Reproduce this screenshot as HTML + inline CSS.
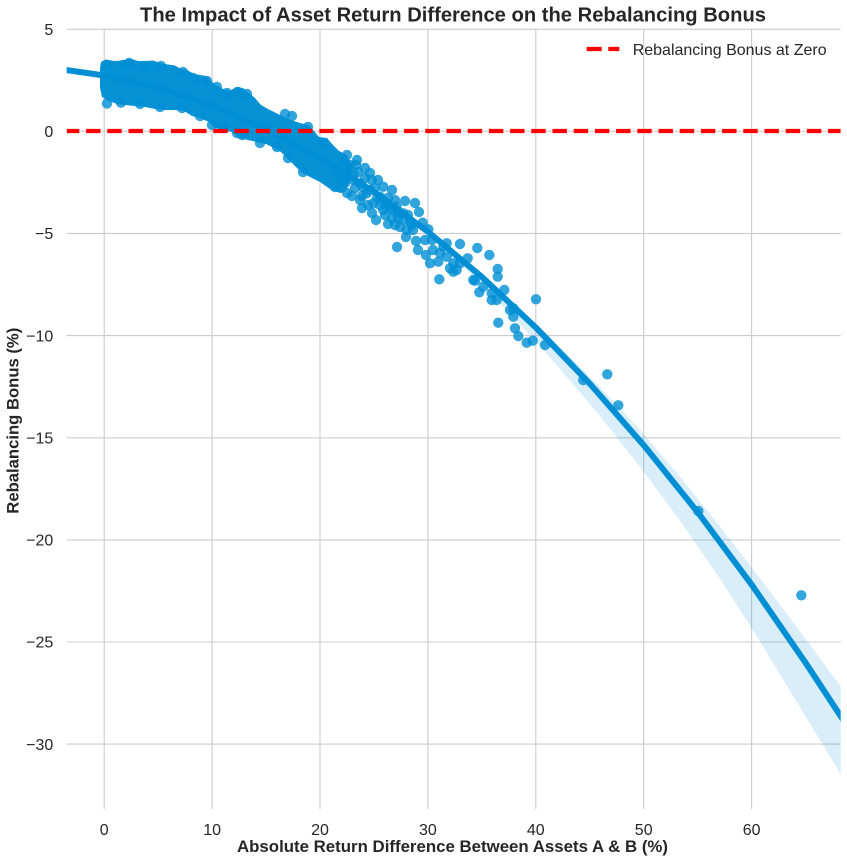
<!DOCTYPE html>
<html>
<head>
<meta charset="utf-8">
<style>
html,body{margin:0;padding:0;background:#fff;}
svg{display:block;}
text{font-family:"Liberation Sans",Arial,sans-serif;fill:#262626;}
</style>
</head>
<body>
<svg width="847" height="864" viewBox="0 0 847 864" xmlns="http://www.w3.org/2000/svg">
<defs>
<clipPath id="pa"><rect x="66.7" y="29" width="774" height="780"/></clipPath>
</defs>
<rect width="847" height="864" fill="#fff"/>

<!-- grid -->
<g stroke="#cccccc" stroke-width="1.1" fill="none">
<line x1="104.2" y1="29" x2="104.2" y2="809"/>
<line x1="212.1" y1="29" x2="212.1" y2="809"/>
<line x1="320" y1="29" x2="320" y2="809"/>
<line x1="427.9" y1="29" x2="427.9" y2="809"/>
<line x1="535.8" y1="29" x2="535.8" y2="809"/>
<line x1="643.7" y1="29" x2="643.7" y2="809"/>
<line x1="751.6" y1="29" x2="751.6" y2="809"/>
<line x1="66.7" y1="29.3" x2="840.7" y2="29.3"/>
<line x1="66.7" y1="131.3" x2="840.7" y2="131.3"/>
<line x1="66.7" y1="233.4" x2="840.7" y2="233.4"/>
<line x1="66.7" y1="335.6" x2="840.7" y2="335.6"/>
<line x1="66.7" y1="437.8" x2="840.7" y2="437.8"/>
<line x1="66.7" y1="539.9" x2="840.7" y2="539.9"/>
<line x1="66.7" y1="642" x2="840.7" y2="642"/>
<line x1="66.7" y1="744.1" x2="840.7" y2="744.1"/>
</g>

<g clip-path="url(#pa)">
<!-- dense scatter core -->
<polygon fill="#0892d6" points="100,68 101,62 106,59.5 114,61 122,60.5 130,58.5 138,61 146,61 153,60.5 160,63 168,64.5 175,65.5 181,69 188,70.5 194,74 200,75 206,76 211,81 216,85 223,89 230,91 236,87 243,88 249,93 255,98 261,105 268,109 276,113 282,116 291,120 300,123 308,125 314,131 319,137 327,138 333,145 339,151 347,155 352,165 350,180 345,192 340,193 330,189 320,182 310,177 301,172 294,165 288,159 281,152 274,148 266,144 257,142 248,140 240,138 232,132 223,130 215,128 209,122 200,118 192,116 184,111 175,110 165,110 155,109 145,107 135,106 125,105 117,104 109,101 102,97 100,88"/>
<!-- scatter points -->
<g fill="#008fd5" fill-opacity="0.8">
<circle cx="106" cy="65" r="5.2"/><circle cx="123" cy="65" r="5.2"/><circle cx="129" cy="63" r="5.2"/><circle cx="145" cy="66" r="5.2"/><circle cx="161" cy="66" r="5.2"/><circle cx="183" cy="72" r="5.2"/><circle cx="193" cy="78" r="5.2"/><circle cx="207" cy="81" r="5.2"/><circle cx="217" cy="87" r="5.2"/><circle cx="227" cy="93" r="5.2"/><circle cx="238" cy="92" r="5.2"/><circle cx="247" cy="94" r="5.2"/><circle cx="285" cy="114" r="5.2"/><circle cx="292" cy="116" r="5.2"/><circle cx="308" cy="127" r="5.2"/><circle cx="323" cy="143" r="5.2"/><circle cx="347" cy="155" r="5.2"/><circle cx="356" cy="165" r="5.2"/><circle cx="370" cy="173" r="5.2"/><circle cx="392" cy="190" r="5.2"/><circle cx="405" cy="201" r="5.2"/><circle cx="415" cy="203" r="5.2"/>
<circle cx="107" cy="103.5" r="5.2"/><circle cx="121" cy="102.7" r="5.2"/><circle cx="140" cy="104" r="5.2"/><circle cx="160" cy="107" r="5.2"/><circle cx="182" cy="108" r="5.2"/><circle cx="200" cy="116" r="5.2"/><circle cx="212" cy="125" r="5.2"/><circle cx="224" cy="128" r="5.2"/><circle cx="237" cy="133" r="5.2"/><circle cx="242" cy="135" r="5.2"/><circle cx="260" cy="143" r="5.2"/><circle cx="277" cy="147" r="5.2"/><circle cx="288" cy="158" r="5.2"/><circle cx="303" cy="172" r="5.2"/><circle cx="335" cy="187" r="5.2"/><circle cx="347" cy="193" r="5.2"/><circle cx="362" cy="208" r="5.2"/><circle cx="376" cy="220" r="5.2"/><circle cx="388" cy="224" r="5.2"/><circle cx="397" cy="247" r="5.2"/><circle cx="406" cy="237" r="5.2"/><circle cx="416" cy="241" r="5.2"/><circle cx="400" cy="227" r="5.2"/><circle cx="413" cy="230" r="5.2"/>
<!-- mid dense region as points -->
<circle cx="353.3" cy="180" r="5.2"/><circle cx="360" cy="183.3" r="5.2"/><circle cx="346.7" cy="173.3" r="5.2"/><circle cx="371.7" cy="180" r="5.2"/><circle cx="383.3" cy="186.7" r="5.2"/><circle cx="366.7" cy="193.3" r="5.2"/><circle cx="380" cy="196.7" r="5.2"/><circle cx="373.3" cy="203.3" r="5.2"/><circle cx="383.3" cy="210" r="5.2"/><circle cx="393.3" cy="210" r="5.2"/><circle cx="396.7" cy="206.7" r="5.2"/><circle cx="403.3" cy="213.3" r="5.2"/><circle cx="403.3" cy="220" r="5.2"/><circle cx="406.7" cy="230" r="5.2"/>
<circle cx="350" cy="165" r="5.2"/><circle cx="358" cy="172" r="5.2"/><circle cx="365" cy="178" r="5.2"/><circle cx="375" cy="188" r="5.2"/><circle cx="388" cy="198" r="5.2"/><circle cx="395" cy="200" r="5.2"/><circle cx="355" cy="188" r="5.2"/><circle cx="362" cy="196" r="5.2"/><circle cx="368" cy="205" r="5.2"/><circle cx="385" cy="215" r="5.2"/><circle cx="392" cy="218" r="5.2"/><circle cx="410" cy="222" r="5.2"/><circle cx="357" cy="160" r="5.2"/><circle cx="342" cy="160" r="5.2"/><circle cx="340" cy="175" r="5.2"/><circle cx="345" cy="183" r="5.2"/><circle cx="352" cy="196" r="5.2"/><circle cx="378" cy="180" r="5.2"/><circle cx="398" cy="218" r="5.2"/><circle cx="387" cy="205" r="5.2"/>
<circle cx="349" cy="170" r="5.2"/><circle cx="363" cy="187" r="5.2"/><circle cx="370" cy="190" r="5.2"/><circle cx="377" cy="198" r="5.2"/><circle cx="384" cy="202" r="5.2"/><circle cx="390" cy="208" r="5.2"/><circle cx="398" cy="212" r="5.2"/><circle cx="408" cy="215" r="5.2"/><circle cx="412" cy="225" r="5.2"/><circle cx="395" cy="225" r="5.2"/><circle cx="380" cy="205" r="5.2"/><circle cx="372" cy="213" r="5.2"/><circle cx="360" cy="200" r="5.2"/><circle cx="365" cy="168" r="5.2"/><circle cx="354" cy="175" r="5.2"/>
<circle cx="422.7" cy="222.7" r="5.2"/><circle cx="428.3" cy="229.3" r="5.2"/><circle cx="426" cy="255" r="5.2"/><circle cx="430" cy="263.3" r="5.2"/><circle cx="438.3" cy="261.7" r="5.2"/><circle cx="446.7" cy="243.3" r="5.2"/><circle cx="460" cy="244" r="5.2"/><circle cx="477.3" cy="248" r="5.2"/><circle cx="489.3" cy="255" r="5.2"/><circle cx="467.7" cy="258.3" r="5.2"/><circle cx="439.3" cy="279.3" r="5.2"/><circle cx="453.3" cy="271.7" r="5.2"/><circle cx="475" cy="280.7" r="5.2"/><circle cx="479.3" cy="292.3" r="5.2"/><circle cx="491.7" cy="300" r="5.2"/><circle cx="497.7" cy="269" r="5.2"/><circle cx="497.7" cy="276.7" r="5.2"/><circle cx="504.3" cy="290" r="5.2"/><circle cx="513.3" cy="308.3" r="5.2"/><circle cx="536" cy="299.3" r="5.2"/><circle cx="498.3" cy="322.7" r="5.2"/><circle cx="515" cy="328.3" r="5.2"/><circle cx="518.3" cy="336" r="5.2"/><circle cx="526.7" cy="342.7" r="5.2"/><circle cx="532.7" cy="340.7" r="5.2"/><circle cx="545" cy="345" r="5.2"/>
<circle cx="433" cy="250" r="5.2"/><circle cx="440" cy="253" r="5.2"/><circle cx="446.7" cy="256.7" r="5.2"/><circle cx="453.3" cy="263.3" r="5.2"/><circle cx="456.7" cy="270" r="5.2"/><circle cx="450" cy="268.3" r="5.2"/><circle cx="460" cy="263.3" r="5.2"/><circle cx="443.3" cy="246.7" r="5.2"/><circle cx="473.3" cy="280" r="5.2"/><circle cx="483.3" cy="286.7" r="5.2"/><circle cx="491.7" cy="293.3" r="5.2"/><circle cx="496.7" cy="300" r="5.2"/><circle cx="510" cy="310" r="5.2"/><circle cx="513.3" cy="316.7" r="5.2"/>
<circle cx="419" cy="212" r="5.2"/><circle cx="425" cy="240" r="5.2"/><circle cx="418" cy="250" r="5.2"/><circle cx="432" cy="240" r="5.2"/>
<circle cx="583.3" cy="380" r="5.2"/><circle cx="607.3" cy="374.3" r="5.2"/><circle cx="618.3" cy="405.3" r="5.2"/><circle cx="698.3" cy="511" r="5.2"/><circle cx="801.3" cy="595.3" r="5.2"/>
</g>

<!-- confidence band -->
<polygon fill="#008fd5" fill-opacity="0.15" points="400,209.5 440,239.8 480,272.6 520,308.1 560,346.9 600,386.9 640,429.8 680,476.7 720,526.6 760,578.4 800,631.4 841,686.8 841,774.8 800,707.4 760,641.4 720,578.6 680,520.7 640,466.8 600,415.9 560,368.9 520,324.1 480,283.1 440,245.3 400,212.5"/>

<!-- regression line -->
<polyline fill="none" stroke="#008fd5" stroke-width="6" stroke-linejoin="round" points="60,69.1 66.7,70.1 104.3,75.5 158.3,87.9 212.3,105.8 266.3,129.1 320.3,157.9 374.3,192.2 428.3,232 482.3,277.3 536.3,328 590.3,384.2 644.3,445.9 698.3,513 752.3,585.6 806.3,663.8 845,722.8"/>

<!-- zero line -->
<line x1="66.7" y1="131" x2="840.7" y2="131" stroke="#ff0000" stroke-width="4.2" stroke-dasharray="14.4 6.8" stroke-dashoffset="1.8"/>
</g>

<!-- legend -->
<line x1="586.7" y1="49" x2="619.3" y2="49" stroke="#ff0000" stroke-width="4.2" stroke-dasharray="15 6.6"/>
<text x="632.7" y="54.8" font-size="16">Rebalancing Bonus at Zero</text>

<!-- y tick labels -->
<g font-size="16" text-anchor="end">
<text x="53.3" y="35">5</text>
<text x="53.3" y="137">0</text>
<text x="53.3" y="239.1">−5</text>
<text x="53.3" y="341.3">−10</text>
<text x="53.3" y="443.5">−15</text>
<text x="53.3" y="545.6">−20</text>
<text x="53.3" y="647.7">−25</text>
<text x="53.3" y="749.8">−30</text>
</g>

<!-- x tick labels -->
<g font-size="16" text-anchor="middle">
<text x="104.2" y="835">0</text>
<text x="212.1" y="835">10</text>
<text x="320" y="835">20</text>
<text x="427.9" y="835">30</text>
<text x="535.8" y="835">40</text>
<text x="643.7" y="835">50</text>
<text x="751.6" y="835">60</text>
</g>

<!-- axis labels -->
<text x="452.5" y="852" font-size="17" font-weight="bold" text-anchor="middle" textLength="431" lengthAdjust="spacingAndGlyphs">Absolute Return Difference Between Assets A &amp; B (%)</text>
<text transform="translate(18.4,420.7) rotate(-90)" x="0" y="0" font-size="17" font-weight="bold" text-anchor="middle" textLength="186" lengthAdjust="spacingAndGlyphs">Rebalancing Bonus (%)</text>

<!-- title -->
<text x="453" y="21.7" font-size="20" font-weight="bold" text-anchor="middle" textLength="626" lengthAdjust="spacingAndGlyphs">The Impact of Asset Return Difference on the Rebalancing Bonus</text>
</svg>
</body>
</html>
